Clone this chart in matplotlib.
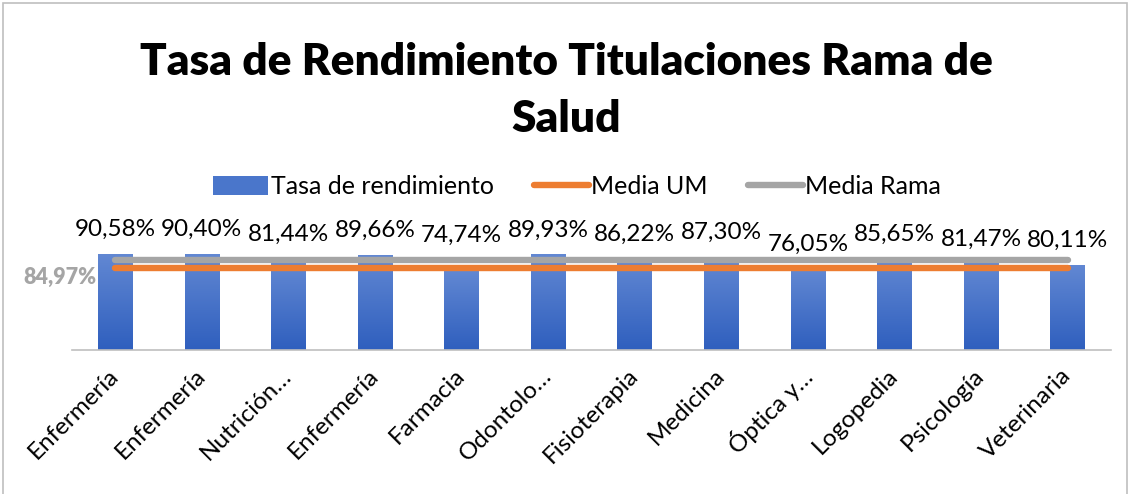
import numpy as np
import matplotlib
matplotlib.use("Agg")
import matplotlib.pyplot as plt
from matplotlib.patches import Patch, Rectangle
from matplotlib.lines import Line2D

# datos
titulaciones = ["Enfermería", "Enfermería", "Nutrición…", "Enfermería", "Farmacia",
                "Odontolo…", "Fisioterapia", "Medicina", "Óptica y…", "Logopedia",
                "Psicología", "Veterinaria"]
tasa = [90.58, 90.40, 81.44, 89.66, 74.74, 89.93, 86.22, 87.30, 76.05, 85.65, 81.47, 80.11]
media_um = 77.3
media_rama = 84.97

# ajuste manual de etiquetas (puntos hacia arriba)
label_nudge = {2: 3, 4: 8}

plt.rcParams['font.family'] = ['Lato', 'DejaVu Sans']

fig = plt.figure(figsize=(11.32, 4.94), dpi=100)
ax = fig.add_axes([72 / 1132, 1 - 350 / 494, (1111 - 72) / 1132, (350 - 243.5) / 494])

x = np.arange(len(tasa))
vals = np.array(tasa) / 100
bars = ax.bar(x, vals, width=0.40, color='none', edgecolor='none', zorder=2)

# degradado azul tipo Excel
grad = np.linspace(0, 1, 256).reshape(-1, 1)
cmap = matplotlib.colors.LinearSegmentedColormap.from_list('az', ['#2F5FBE', '#6288D3'])
for b in bars:
    bx, by = b.get_x(), b.get_y()
    w, h = b.get_width(), b.get_height()
    im = ax.imshow(grad, cmap=cmap, aspect='auto', origin='lower',
                   extent=(bx, bx + w, by, by + h), zorder=2)
    im.set_clip_path(b)

n = len(tasa)
ax.plot(x, [media_rama / 100] * n, color='#A5A5A5', lw=4.6, solid_capstyle='round', zorder=3)
ax.plot(x, [media_um / 100] * n, color='#ED7D31', lw=4.6, solid_capstyle='round', zorder=4)

for i, v in enumerate(tasa):
    ax.annotate(f"{v:.2f}%".replace('.', ','), (x[i], v / 100),
                xytext=(0, 17.5 + label_nudge.get(i, 0)), textcoords='offset points',
                ha='center', va='center', fontsize=17.5, color='#000000',
                annotation_clip=False)

ax.annotate(f"{media_rama:.2f}%".replace('.', ','), (x[0], media_rama / 100),
            xytext=(-40, -13), textcoords='offset points', ha='center', va='center',
            fontsize=15.5, fontweight='heavy', color='#A5A5A5', annotation_clip=False)

ax.set_xlim(-0.5, n - 0.5)
ax.set_ylim(0, 1)
ax.set_yticks([])
ax.set_xticks(x)
ax.set_xticklabels(titulaciones, rotation=45, ha='right', va='center',
                   rotation_mode='anchor', fontsize=17.5)
ax.tick_params(axis='x', length=0, pad=16)
for s in ['top', 'right', 'left']:
    ax.spines[s].set_visible(False)
ax.spines['bottom'].set_color('#BFBFBF')
ax.spines['bottom'].set_linewidth(1.2)

fig.text(0.5, 1 - 62 / 494, "Tasa de Rendimiento Titulaciones Rama de", ha='center', va='center',
         fontsize=31.8, fontweight='heavy')
fig.text(0.5, 1 - 119 / 494, "Salud", ha='center', va='center', fontsize=31.8, fontweight='heavy')

handles = [Patch(facecolor='#4A76CB', edgecolor='none'),
           Line2D([0], [0], color='#ED7D31', lw=4.6, solid_capstyle='round'),
           Line2D([0], [0], color='#A5A5A5', lw=4.6, solid_capstyle='round')]
fig.legend(handles, ["Tasa de rendimiento", "Media UM", "Media Rama"],
           loc='center', bbox_to_anchor=(0.51, 1 - 187 / 494), ncol=3, frameon=False,
           fontsize=18, handlelength=2.2, handleheight=0.8, handletextpad=0.1,
           columnspacing=1.6)

# borde del gráfico
fig.patches.append(Rectangle((3 / 1132, -0.1), 1124 / 1132, 1.1 - 3 / 494, transform=fig.transFigure,
                             fill=False, edgecolor='#BFBFBF', lw=1.2))

fig.savefig("out.png", dpi=100)
